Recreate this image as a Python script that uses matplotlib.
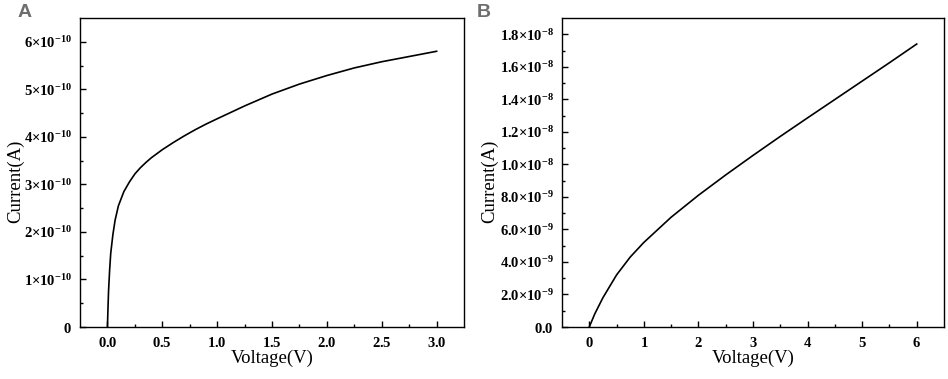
import matplotlib
matplotlib.use("Agg")
import matplotlib.pyplot as plt
import numpy as np
from matplotlib.ticker import FixedLocator, FuncFormatter

# Panel A data (current in units of 1e-10 A)
volt_a = [0, 0.005, 0.01, 0.02, 0.03, 0.05, 0.07, 0.1, 0.15, 0.2, 0.25, 0.3, 0.35,
          0.4, 0.5, 0.6, 0.7, 0.8, 0.9, 1.0, 1.25, 1.5, 1.75, 2.0, 2.25, 2.5, 2.75, 3.0]
curr_a = [0, 0.4, 0.75, 1.2, 1.55, 1.95, 2.25, 2.55, 2.85, 3.05, 3.22, 3.35, 3.46,
          3.56, 3.73, 3.88, 4.02, 4.15, 4.27, 4.38, 4.65, 4.9, 5.11, 5.29, 5.45,
          5.58, 5.69, 5.8]

# Panel B data (current in units of 1e-9 A)
volt_b = [0, 0.1, 0.25, 0.5, 0.75, 1.0, 1.5, 2.0, 2.5, 3.0, 3.5, 4.0, 4.5, 5.0, 5.5, 6.0]
curr_b = [0, 0.8, 1.8, 3.2, 4.3, 5.2, 6.75, 8.1, 9.35, 10.55, 11.72, 12.86, 13.99,
          15.12, 16.25, 17.4]

plt.rcParams['mathtext.fontset'] = 'custom'
plt.rcParams['mathtext.rm'] = 'Liberation Serif'
plt.rcParams['mathtext.bf'] = 'Liberation Serif:bold'
plt.rcParams['mathtext.it'] = 'Liberation Serif:italic'


def fmt_a(v, pos):
    k = round(v / 1e-10)
    if k == 0:
        return r'$\mathbf{0}$'
    return r'$\mathbf{%d{\times}10^{-10}}$' % k


def fmt_b(v, pos):
    if abs(v) < 1e-12:
        return r'$\mathbf{0.0}$'
    if v < 9.99e-9:
        return r'$\mathbf{%.1f{\times}10^{-9}}$' % (v / 1e-9)
    return r'$\mathbf{%.1f{\times}10^{-8}}$' % (v / 1e-8)


fig = plt.figure(figsize=(9.48, 3.79), dpi=100)
ax_a = fig.add_axes([0.0844, 0.1372, 0.4051, 0.8153])
ax_b = fig.add_axes([0.5928, 0.1372, 0.4030, 0.8153])

ax_a.plot(volt_a, [c * 1e-10 for c in curr_a], color='black', lw=1.2)
ax_b.plot(volt_b, [c * 1e-9 for c in curr_b], color='black', lw=1.2)

# ticks kept strictly inside the view limits
ax_a.set_xlim(-0.25, 3.25)
ax_a.set_ylim(0, 6.5e-10)
ax_a.xaxis.set_major_locator(FixedLocator(np.arange(0, 3.01, 0.5)))
ax_a.xaxis.set_minor_locator(FixedLocator(np.arange(0.25, 3.01, 0.5)))
ax_a.yaxis.set_major_locator(FixedLocator(np.arange(0, 6.5) * 1e-10))
ax_a.yaxis.set_minor_locator(FixedLocator(np.arange(0.5, 6.5, 1) * 1e-10))
ax_a.yaxis.set_major_formatter(FuncFormatter(fmt_a))
ax_a.xaxis.set_major_formatter(FuncFormatter(lambda v, p: r'$\mathbf{%.1f}$' % v))

ax_b.set_xlim(-0.5, 6.5)
ax_b.set_ylim(0, 1.9e-8)
ax_b.xaxis.set_major_locator(FixedLocator(np.arange(0, 6.5, 1)))
ax_b.xaxis.set_minor_locator(FixedLocator(np.arange(0.5, 6.5, 1)))
ax_b.yaxis.set_major_locator(FixedLocator(np.arange(0, 19, 2) * 1e-9))
ax_b.yaxis.set_minor_locator(FixedLocator(np.arange(1, 19, 2) * 1e-9))
ax_b.yaxis.set_major_formatter(FuncFormatter(fmt_b))
ax_b.xaxis.set_major_formatter(FuncFormatter(lambda v, p: r'$\mathbf{%d}$' % round(v)))

for ax, lx in ((ax_a, -0.145), (ax_b, -0.168)):
    for s in ax.spines.values():
        s.set_linewidth(1.0)
    ax.tick_params(which='major', direction='in', length=4.5, width=1.0,
                   labelsize=10.5, pad=6)
    ax.tick_params(which='minor', direction='in', length=2.5, width=1.0)
    ax.tick_params(top=False, right=False, which='both')
    ax.set_xlabel('Voltage(V)', family='Liberation Serif', fontsize=13.5)
    ax.set_ylabel('Current(A)', family='Liberation Serif', fontsize=13.5)
    ax.xaxis.set_label_coords(0.5, -0.072)
    ax.yaxis.set_label_coords(lx, 0.47)

fig.text(0.019, 0.955, 'A', fontsize=14, fontweight='bold', color='#6e6e6e',
         family='Liberation Sans', va='baseline', ha='left')
fig.text(0.503, 0.955, 'B', fontsize=14, fontweight='bold', color='#6e6e6e',
         family='Liberation Sans', va='baseline', ha='left')

fig.savefig('out.png', dpi=100)
